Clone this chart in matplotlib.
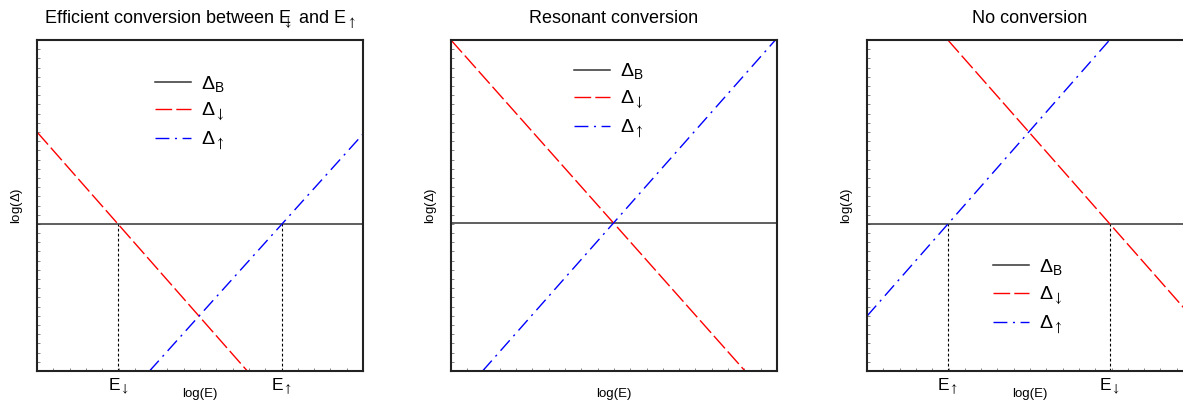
import numpy as np
import matplotlib
matplotlib.use("Agg")
import matplotlib.pyplot as plt

plt.rcParams['font.family'] = ['Liberation Sans', 'DejaVu Sans']
plt.rcParams['mathtext.fontset'] = 'custom'
plt.rcParams['mathtext.rm'] = 'Liberation Sans'
plt.rcParams['mathtext.it'] = 'Liberation Sans'
plt.rcParams['mathtext.bf'] = 'Liberation Sans:bold'
plt.rcParams['mathtext.sf'] = 'STIXGeneral'  # thin, tall arrows

DN = r"\mathsf{\downarrow}"
UP = r"\mathsf{\uparrow}"

# data (arbitrary log units, axes run 0..10)
titles = [r"Efficient conversion between E$\!\!\!_{%s}$ and E$_{%s}$" % (DN, UP),
          "Resonant conversion",
          "No conversion"]
delta_b = [4.44, 4.47, 4.44]

down_x = [[0.0, 6.45], [0.0, 9.02], [2.48, 10.0]]
down_y = [[7.22, 0.0], [10.0, 0.0], [10.0, 1.59]]
up_x = [[3.45, 10.0], [0.97, 9.95], [0.0, 7.44]]
up_y = [[0.0, 7.16], [0.0, 10.0], [1.66, 10.0]]

e_pos = [[2.49, 7.51], [], [2.48, 7.45]]
e_labels = [[r"E$_{%s}$" % DN, r"E$_{%s}$" % UP], [],
            [r"E$_{%s}$" % UP, r"E$_{%s}$" % DN]]

legend_names = [r"$\Delta_{B}$", r"$\Delta_{%s}$" % DN, r"$\Delta_{%s}$" % UP]
legend_anchor = [(0.363, 0.779), (0.377, 0.817), (0.387, 0.225)]

fig = plt.figure(figsize=(11.83, 4.01), dpi=100)
lefts = [0.0313, 0.3812, 0.7329]

for i in range(3):
    ax = fig.add_axes([lefts[i], 0.0748, 0.2756, 0.8254])
    ax.set_xlim(0, 10)
    ax.set_ylim(0, 10)

    hb = ax.axhline(delta_b[i], color='#333333', lw=1.1)
    hd, = ax.plot(down_x[i], down_y[i], color='red', lw=1.0, dashes=(12, 3))
    hu, = ax.plot(up_x[i], up_y[i], color='blue', lw=1.0, dashes=(10, 4, 1.5, 4))

    for e in e_pos[i]:
        ax.plot([e, e], [0, delta_b[i]], color='black', lw=0.8, dashes=(2.5, 2))

    ax.set_xticks(e_pos[i])
    ax.set_xticklabels(e_labels[i], fontsize=12.5)
    ax.tick_params(axis='x', which='major', length=0, pad=4)
    ax.set_yticks([])
    ax.set_xticks(np.arange(0, 10.01, 0.5), minor=True)
    ax.set_yticks(np.linspace(0, 10, 37), minor=True)
    ax.tick_params(which='minor', direction='in', length=2.5, width=0.5,
                   color='#555555')

    for s in ax.spines.values():
        s.set_linewidth(1.5)
        s.set_color('#222222')

    ax.set_xlabel("log(E)", fontsize=9.5)
    ax.xaxis.set_label_coords(0.5, -0.05)
    ax.set_ylabel(r"log($\Delta$)", fontsize=9.5)
    ax.yaxis.set_label_coords(-0.037, 0.5)
    ax.set_title(titles[i], fontsize=13, pad=12)

    ax.legend([hb, hd, hu], legend_names, loc='center left',
              bbox_to_anchor=legend_anchor[i], frameon=False, fontsize=14,
              handlelength=1.85, handletextpad=0.5, labelspacing=0.36,
              borderpad=0, borderaxespad=0)

fig.savefig("out.png", dpi=100)
